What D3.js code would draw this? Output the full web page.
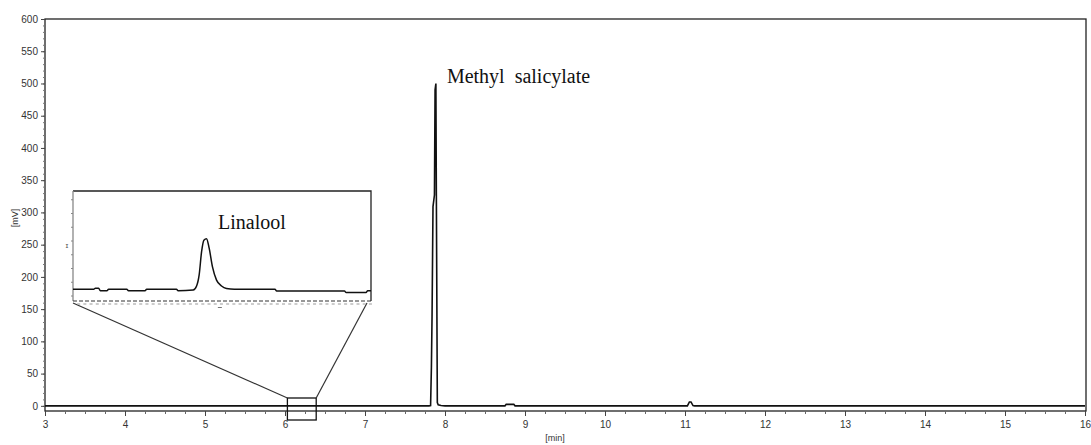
<!DOCTYPE html>
<html>
<head>
<meta charset="utf-8">
<script src="https://cdnjs.cloudflare.com/ajax/libs/d3/7.8.5/d3.min.js"></script>
<style>
  body { margin: 0; background: #fff; }
  text { font-family: Arial, "Liberation Sans", sans-serif; }
  text.serif { font-family: "Liberation Serif", "Times New Roman", serif; white-space: pre; }
</style>
</head>
<body>
<svg id="chart"></svg>
<script>
// chromatogram data (retention time in min, signal in mV)
const mainTime  = [3.0, 7.80, 7.820, 7.830, 7.838, 7.850, 7.868, 7.876, 7.886, 7.892, 7.904, 7.915, 7.95, 8.0,
                   8.75, 8.765, 8.86, 8.875, 11.03, 11.055, 11.075, 11.10, 11.12, 16.0];
const mainValue = [0, 0, 0.5, 60, 138, 309, 327, 490, 500, 327, 5, 1.5, 0.5, 0,
                   0, 2.3, 2.3, 0, 0, 6, 6, 0.5, 0, 0];

// zoomed part around linalool
const insetTime  = [6.030, 6.055, 6.057, 6.061, 6.063, 6.071, 6.073, 6.095, 6.097, 6.117, 6.119, 6.155, 6.157,
                    6.1752, 6.1793, 6.1824, 6.1853, 6.1881, 6.1913, 6.1945, 6.1985, 6.2034, 6.2094, 6.2154, 6.225,
                    6.274, 6.276, 6.358, 6.360, 6.384, 6.386, 6.390];
const insetValue = [0.32, 0.32, 0.35, 0.35, 0.28, 0.28, 0.32, 0.32, 0.28, 0.28, 0.32, 0.32, 0.28,
                    0.30, 0.41, 0.71, 1.34, 1.66, 1.70, 1.44, 0.93, 0.57, 0.41, 0.34, 0.32,
                    0.32, 0.27, 0.27, 0.23, 0.23, 0.28, 0.28];
const insetWindow = [6.03, 6.39];

const xTicks = d3.range(3, 17, 1);
const yTicks = d3.range(0, 601, 50);

const peakLabels = [
  { name: "Methyl  salicylate", t: 7.886, v: 500 }
];

const width = 1091, height = 445;
const svg = d3.select("#chart").attr("width", width).attr("height", height);

// scales
const x = d3.scaleLinear().domain([3, 16]).range([45, 1085]);
const y = d3.scaleLinear().domain([-8, 600]).range([411, 19]);

// frame
svg.append("rect")
  .attr("x", x(3)).attr("y", y(600))
  .attr("width", x(16) - x(3) + 1).attr("height", y(-8) - y(600))
  .attr("fill", "none").attr("stroke", "#222").attr("stroke-width", 1.3);

// x axis, major and minor
svg.append("g")
  .attr("transform", `translate(0,${y(-8)})`)
  .call(d3.axisBottom(x).tickValues(d3.range(3, 16.01, 0.25)).tickSize(3).tickFormat(""))
  .call(g => g.select(".domain").remove())
  .call(g => g.selectAll("line").attr("stroke", "#666"));

svg.append("g")
  .attr("transform", `translate(0,${y(-8)})`)
  .call(d3.axisBottom(x).tickValues(xTicks).tickSize(5).tickPadding(5).tickFormat(d3.format("d")))
  .call(g => g.select(".domain").remove())
  .call(g => g.selectAll("line").attr("stroke", "#444"))
  .call(g => g.selectAll("text").attr("font-size", 10).attr("fill", "#333"));

// y axis, major and minor
svg.append("g")
  .attr("transform", `translate(${x(3)},0)`)
  .call(d3.axisLeft(y).tickValues(d3.range(0, 601, 10)).tickSize(2).tickFormat(""))
  .call(g => g.select(".domain").remove())
  .call(g => g.selectAll("line").attr("stroke", "#777"));

svg.append("g")
  .attr("transform", `translate(${x(3)},0)`)
  .call(d3.axisLeft(y).tickValues(yTicks).tickSize(4).tickPadding(3).tickFormat(d3.format("d")))
  .call(g => g.select(".domain").remove())
  .call(g => g.selectAll("line").attr("stroke", "#444"))
  .call(g => g.selectAll("text").attr("font-size", 10).attr("fill", "#333"));

// axis titles
svg.append("text")
  .attr("x", 555).attr("y", 441)
  .attr("text-anchor", "middle").attr("font-size", 9).attr("fill", "#333")
  .text("[min]");

svg.append("text")
  .attr("transform", "translate(18,218) rotate(-90)")
  .attr("text-anchor", "middle").attr("font-size", 9).attr("fill", "#333")
  .text("[mV]");

// main trace
const line = d3.line().x((d, i) => x(mainTime[i])).y(d => y(d));
svg.append("path")
  .datum(mainValue)
  .attr("d", line)
  .attr("fill", "none").attr("stroke", "#111").attr("stroke-width", 1.6);

peakLabels.forEach(p => {
  svg.append("text")
    .attr("class", "serif")
    .attr("x", x(p.t) + 11).attr("y", y(p.v))
    .attr("font-size", 20).attr("fill", "#111")
    .text(p.name);
});

// zoom rectangle on main axis
const zx0 = x(insetWindow[0]), zx1 = x(insetWindow[1]);
const zy0 = 398, zy1 = 420;
svg.append("rect")
  .attr("x", zx0).attr("y", zy0)
  .attr("width", zx1 - zx0).attr("height", zy1 - zy0)
  .attr("fill", "none").attr("stroke", "#111").attr("stroke-width", 1.3);

// inset
const ix = d3.scaleLinear().domain(insetWindow).range([73, 371]);
const iy = d3.scaleLinear().domain([0, 3]).range([301, 191]);

svg.append("line")
  .attr("x1", ix.range()[0]).attr("y1", 303).attr("x2", zx0).attr("y2", zy0)
  .attr("stroke", "#333").attr("stroke-width", 1.2);
svg.append("line")
  .attr("x1", ix.range()[1] - 4).attr("y1", 303).attr("x2", zx1).attr("y2", zy0)
  .attr("stroke", "#333").attr("stroke-width", 1.2);

const inset = svg.append("g");
inset.append("rect")
  .attr("x", 73).attr("y", 191).attr("width", 298).attr("height", 110)
  .attr("fill", "#fff").attr("stroke", "none");
inset.append("path")
  .attr("d", "M73,191 L371,191 L371,301")
  .attr("fill", "none").attr("stroke", "#222").attr("stroke-width", 1.3);
inset.append("path")
  .attr("d", "M73,301 L73,191")
  .attr("fill", "none").attr("stroke", "#888").attr("stroke-width", 1.3);

// left dotted ticks of inset
inset.append("g")
  .attr("transform", "translate(73,0)")
  .call(d3.axisLeft(iy).tickValues(d3.range(0.15, 3, 0.375)).tickSize(2).tickFormat(""))
  .call(g => g.select(".domain").remove())
  .call(g => g.selectAll("line").attr("stroke", "#888"));

inset.append("text")
  .attr("x", 67).attr("y", 248).attr("font-size", 8).attr("fill", "#555")
  .attr("text-anchor", "middle").text("ɪ");

// dashed bottom edge of inset with tiny labels
inset.append("line")
  .attr("x1", 73).attr("x2", 371).attr("y1", 301).attr("y2", 301)
  .attr("stroke", "#333").attr("stroke-width", 1.2).attr("stroke-dasharray", "4,2");
inset.append("g")
  .selectAll("rect")
  .data(d3.range(6.035, 6.39, 0.0075))
  .join("rect")
  .attr("x", d => ix(d)).attr("y", 303.5)
  .attr("width", 3).attr("height", 1)
  .attr("fill", "#999");
inset.append("rect")
  .attr("x", ix(6.205)).attr("y", 307).attr("width", 4).attr("height", 1).attr("fill", "#777");

const insetLine = d3.line().x((d, i) => ix(insetTime[i])).y(d => iy(d)).curve(d3.curveMonotoneX);
inset.append("path")
  .datum(insetValue)
  .attr("d", insetLine)
  .attr("fill", "none").attr("stroke", "#111").attr("stroke-width", 1.5);

inset.append("text")
  .attr("class", "serif")
  .attr("x", 218).attr("y", 229)
  .attr("font-size", 20).attr("fill", "#111")
  .text("Linalool");
</script>
</body>
</html>
